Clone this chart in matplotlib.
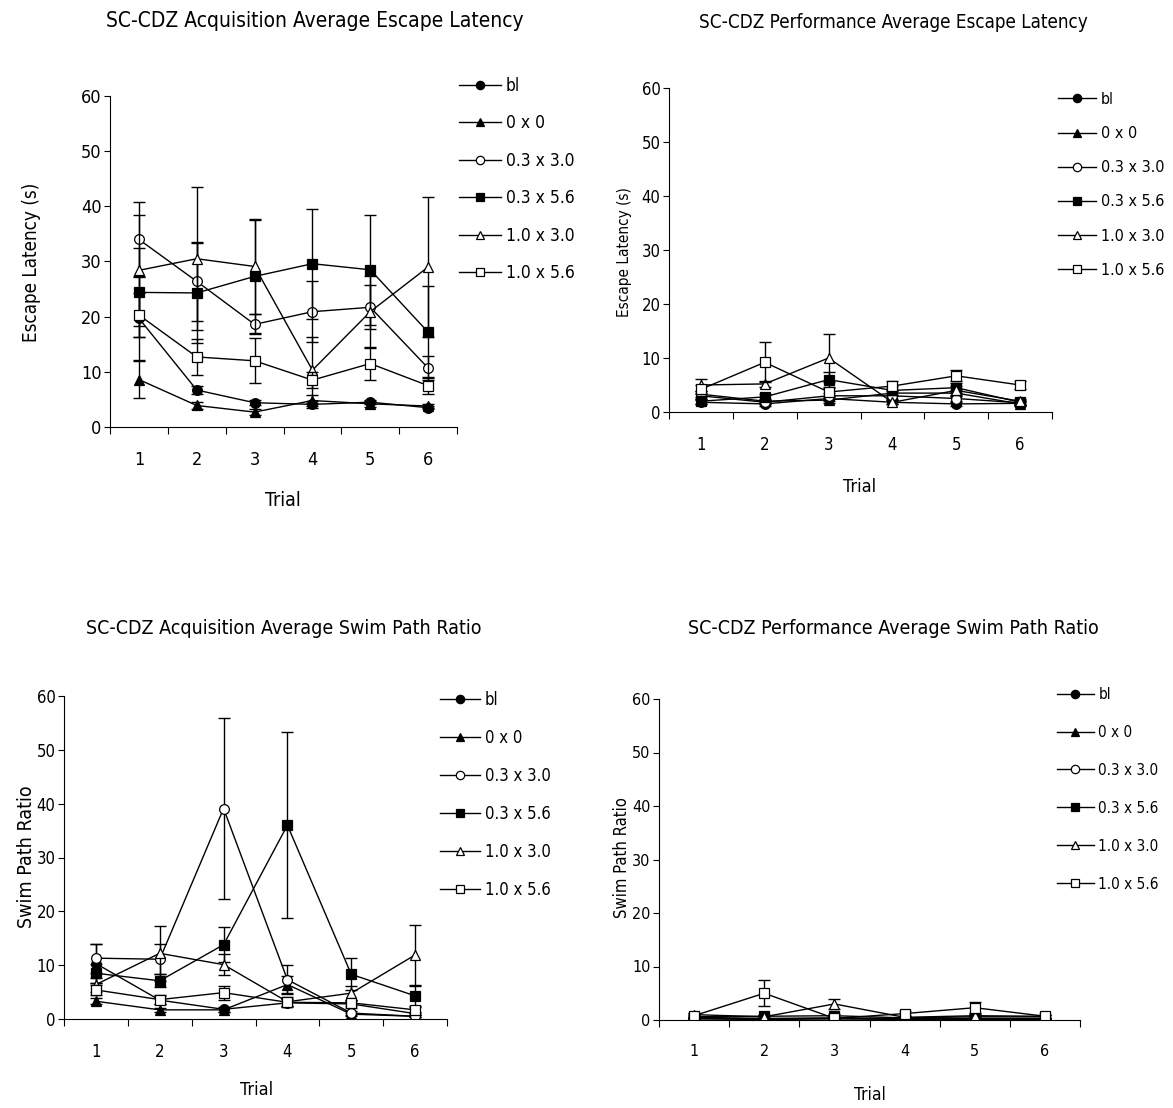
import matplotlib
matplotlib.use("Agg")
import matplotlib.pyplot as plt
from matplotlib.ticker import FixedLocator
from matplotlib.lines import Line2D

plt.rcParams['font.family'] = ['DejaVu Sans']
plt.rcParams['font.stretch'] = 'condensed'

trials = [1, 2, 3, 4, 5, 6]
groups = ["bl", "0 x 0", "0.3 x 3.0", "0.3 x 5.6", "1.0 x 3.0", "1.0 x 5.6"]

# acquisition escape latency (s)
acq_lat = [
    [19.7, 6.7, 4.4, 4.1, 4.5, 3.5],
    [8.6, 3.9, 2.7, 4.8, 4.2, 3.8],
    [34.0, 26.4, 18.6, 20.9, 21.7, 10.7],
    [24.4, 24.3, 27.3, 29.6, 28.5, 17.2],
    [28.4, 30.5, 29.1, 10.3, 20.9, 29.0],
    [20.3, 12.7, 12.0, 8.5, 11.5, 7.5],
]
acq_lat_err = [
    [7.5, 0.8, 0.5, 0.6, 0.4, 0.3],
    [3.4, 0.6, 0.6, 1.0, 0.5, 0.4],
    [6.7, 7.2, 1.8, 5.5, 4.0, 2.2],
    [8.0, 9.0, 10.3, 10.0, 10.0, 8.3],
    [10.1, 13.0, 8.6, 6.0, 6.5, 12.7],
    [4.0, 3.3, 4.1, 1.5, 3.0, 1.6],
]

# performance escape latency (s)
perf_lat = [
    [1.8, 1.5, 2.5, 1.8, 1.5, 1.6],
    [3.3, 2.0, 2.2, 3.5, 3.5, 1.5],
    [3.0, 1.8, 3.0, 3.0, 2.5, 1.7],
    [2.0, 2.8, 6.0, 4.0, 4.5, 1.8],
    [5.0, 5.2, 10.0, 1.8, 4.0, 2.0],
    [4.2, 9.2, 3.7, 4.8, 6.7, 5.0],
]
perf_lat_err = [
    [0.4, 0.3, 0.4, 0.4, 0.3, 0.3],
    [0.6, 0.5, 0.5, 0.6, 0.6, 0.4],
    [0.6, 0.4, 0.6, 0.5, 0.5, 0.4],
    [0.5, 0.6, 1.4, 0.8, 0.9, 0.5],
    [1.2, 0.6, 4.4, 0.4, 0.8, 0.5],
    [0.8, 3.7, 0.7, 0.9, 1.0, 0.7],
]

# acquisition swim path ratio
acq_swim = [
    [10.3, 3.5, 1.8, 3.0, 2.8, 1.0],
    [3.3, 1.7, 1.7, 6.4, 0.9, 0.5],
    [11.3, 11.1, 39.1, 7.3, 1.1, 0.5],
    [8.5, 7.1, 13.8, 36.0, 8.3, 4.3],
    [6.4, 12.2, 10.1, 3.2, 4.8, 11.9],
    [5.4, 3.6, 4.9, 3.1, 3.0, 1.7],
]
acq_swim_err = [
    [3.7, 0.7, 0.5, 0.8, 0.7, 0.3],
    [0.6, 0.4, 0.4, 1.5, 0.3, 0.2],
    [2.7, 2.8, 16.9, 2.7, 0.4, 0.2],
    [1.8, 1.2, 3.2, 17.3, 3.0, 1.8],
    [1.3, 5.1, 2.0, 0.8, 1.4, 5.5],
    [1.0, 0.8, 1.3, 0.7, 0.6, 0.5],
]

# performance swim path ratio
perf_swim = [
    [0.2, 0.1, 0.2, 0.1, 0.1, 0.1],
    [0.3, 0.2, 0.3, 0.2, 0.2, 0.2],
    [0.5, 0.3, 0.4, 0.3, 0.3, 0.3],
    [0.6, 0.7, 0.8, 0.4, 0.6, 0.6],
    [1.0, 0.6, 3.0, 0.5, 0.8, 0.7],
    [0.8, 5.0, 0.3, 1.2, 2.3, 0.7],
]
perf_swim_err = [
    [0.1, 0.1, 0.1, 0.1, 0.1, 0.1],
    [0.1, 0.1, 0.1, 0.1, 0.1, 0.1],
    [0.2, 0.1, 0.2, 0.1, 0.1, 0.1],
    [0.3, 0.3, 0.3, 0.2, 0.3, 0.3],
    [0.4, 0.3, 0.9, 0.2, 0.3, 0.3],
    [0.3, 2.4, 0.2, 0.4, 1.0, 0.3],
]

markers = ['o', '^', 'o', 's', '^', 's']
faces = ['black', 'black', 'white', 'black', 'white', 'white']

W, H = 1173, 1108
fig = plt.figure(figsize=(W / 100, H / 100), dpi=100)


def px_axes(x0, y0, x1, y1):
    # pixel box (top-left origin) -> figure axes
    return fig.add_axes([x0 / W, 1 - y1 / H, (x1 - x0) / W, (y1 - y0) / H])


def panel(box, data, err, title, tpos, tfs, ylabel, ypos, yfs, xpos, leg, fs, lfs):
    ax = px_axes(*box)
    for i in range(6):
        ax.errorbar(trials, data[i], yerr=err[i], fmt='none', ecolor='black',
                    elinewidth=1.0, capsize=4, capthick=1.0)
        ax.plot(trials, data[i], color='black', lw=1.0,
                marker=markers[i], mfc=faces[i], mec='black', mew=0.9, ms=7)
    ax.set_xlim(0.5, 6.5)
    ax.set_ylim(0, 60)
    ax.set_yticks(range(0, 61, 10))
    ax.set_xticks(trials)
    ax.xaxis.set_minor_locator(FixedLocator([0.5 + k for k in range(7)]))
    ax.tick_params(axis='x', which='major', length=0, pad=17, labelsize=fs)
    ax.tick_params(axis='x', which='minor', length=5, width=0.8, direction='out')
    ax.tick_params(axis='y', length=4, width=0.8, pad=2, labelsize=fs)
    for s in ['top', 'right']:
        ax.spines[s].set_visible(False)
    for s in ['left', 'bottom']:
        ax.spines[s].set_linewidth(0.8)
        ax.spines[s].set_clip_on(False)
    fig.text(tpos[0] / W, 1 - tpos[1] / H, title, ha='center', va='center', fontsize=tfs)
    fig.text(ypos[0] / W, 1 - ypos[1] / H, ylabel, ha='center', va='center',
             rotation=90, fontsize=yfs)
    fig.text(xpos[0] / W, 1 - xpos[1] / H, "Trial", ha='center', va='center', fontsize=fs + 1)
    handles = [Line2D([], [], color='black', lw=1.0, marker=markers[i], mfc=faces[i],
                      mec='black', mew=0.9, ms=6) for i in range(6)]
    ax.legend(handles, groups, loc='upper left', bbox_to_anchor=(leg[0] / W, 1 - leg[1] / H),
              bbox_transform=fig.transFigure, frameon=False, fontsize=lfs,
              handlelength=2.4, handletextpad=0.3, labelspacing=leg[2],
              borderpad=0, borderaxespad=0)
    return ax


panel((110, 96, 457, 427), acq_lat, acq_lat_err,
      "SC-CDZ Acquisition Average Escape Latency", (315, 21), 15,
      "Escape Latency (s)", (32, 262), 13.5, (283, 500), (459, 77, 1.12), 13, 12.5)
panel((669, 88, 1052, 412), perf_lat, perf_lat_err,
      "SC-CDZ Performance Average Escape Latency", (893, 22), 13.5,
      "Escape Latency (s)", (624, 252), 11, (860, 487), (1058, 92, 1.2), 12, 11.5)
panel((64, 696, 447, 1019), acq_swim, acq_swim_err,
      "SC-CDZ Acquisition Average Swim Path Ratio", (284, 628), 14,
      "Swim Path Ratio", (27, 857), 14, (257, 1090), (440, 691, 1.2), 12, 12)
panel((659, 699, 1080, 1020), perf_swim, perf_swim_err,
      "SC-CDZ Performance Average Swim Path Ratio", (893, 628), 14,
      "Swim Path Ratio", (622, 857), 12, (870, 1095), (1057, 687, 1.5), 11.5, 11)

fig.savefig("out.png", dpi=100)
